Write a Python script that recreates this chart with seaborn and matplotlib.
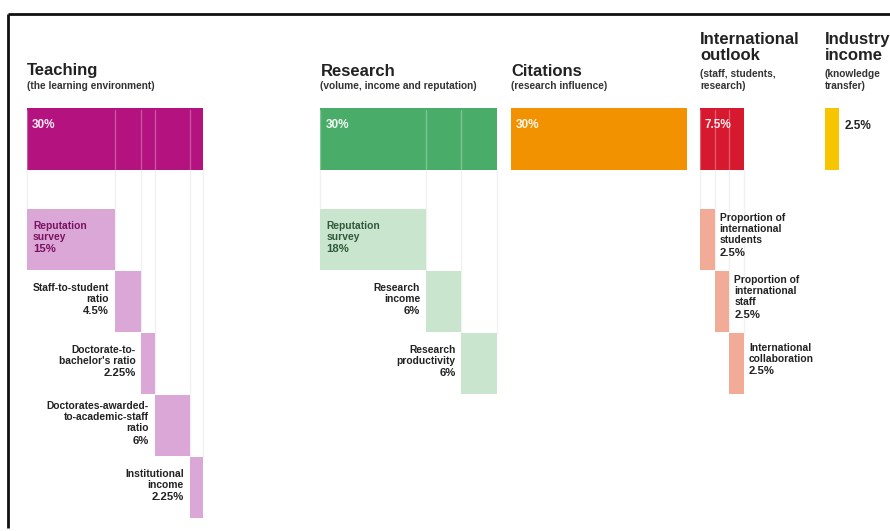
import matplotlib
matplotlib.use("Agg")
import matplotlib.pyplot as plt
import seaborn as sns
import pandas as pd

# ---- data -------------------------------------------------------------
pillars = ["Teaching", "Research", "Citations", "International\noutlook", "Industry\nincome"]
pillar_notes = ["(the learning environment)", "(volume, income and reputation)",
                "(research influence)", "(staff, students,\nresearch)", "(knowledge\ntransfer)"]
pillar_weights = [30, 30, 30, 7.5, 2.5]

teaching_metrics = ["Reputation\nsurvey", "Staff-to-student\nratio", "Doctorate-to-\nbachelor's ratio",
                    "Doctorates-awarded-\nto-academic-staff\nratio", "Institutional\nincome"]
teaching_weights = [15, 4.5, 2.25, 6, 2.25]

research_metrics = ["Reputation\nsurvey", "Research\nincome", "Research\nproductivity"]
research_weights = [18, 6, 6]

intl_metrics = ["Proportion of\ninternational\nstudents", "Proportion of\ninternational\nstaff",
                "International\ncollaboration"]
intl_weights = [2.5, 2.5, 2.5]

# ---- styling ----------------------------------------------------------
main_colors = ["#b4127e", "#49ad69", "#f39200", "#d6192e", "#f7c600"]
sub_colors = {0: "#dba7d7", 1: "#c9e5cd", 3: "#f1ab97"}
inside_text = {0: "#7a1262", 1: "#2f5a3a"}

sns.set_theme(style="white")
plt.rcParams["font.family"] = ["Liberation Sans Narrow", "Liberation Sans", "DejaVu Sans"]
SMALL = ["Liberation Sans", "DejaVu Sans"]

# layout (x in weight units, y in pixel rows)
pillar_left = [0, 50, 82.45, 114.65, 135.9]
MAIN_TOP, MAIN_H = 108, 62
ROW0, ROW_PITCH, ROW_H = 209, 62, 61
PX_PER_UNIT = 5.87
X0_PX = 27

fig = plt.figure(figsize=(8.9, 5.31), dpi=100)
ax = fig.add_axes([0, 0, 1, 1])
ax.set_xlim(-X0_PX / PX_PER_UNIT, (890 - X0_PX) / PX_PER_UNIT)
ax.set_ylim(531, 0)
ax.axis("off")

def px(n):
    return n / PX_PER_UNIT

# frame
ax.plot([px(8.5 - X0_PX), 200], [13.5, 13.5], color="#111111", lw=2, solid_capstyle="butt")
ax.plot([px(8.5 - X0_PX)] * 2, [13.5, 528], color="#111111", lw=2, solid_capstyle="butt")

frame = pd.DataFrame({"pillar": pillars, "note": pillar_notes, "weight": pillar_weights,
                      "left": pillar_left, "color": main_colors})

# main pillar bars
ax.barh(y=[MAIN_TOP] * len(frame), width=frame["weight"], left=frame["left"],
        height=MAIN_H, align="edge", color=frame["color"], linewidth=0)

for i, row in frame.iterrows():
    nlines = row["note"].count("\n") + 1
    ax.text(row["left"], 91, row["note"], fontsize=7.3, fontweight="bold", color="#333333",
            ha="left", va="bottom", linespacing=1.2, family=SMALL)
    ax.text(row["left"], 91 - (nlines * 15.5 - 3), row["pillar"], fontsize=12,
            fontweight="bold", color="#222222", ha="left", va="bottom", linespacing=1.05)
    label = f"{row['weight']:g}%"
    if row["weight"] >= 5:
        ax.text(row["left"] + px(5), 125, label, fontsize=8.5, fontweight="bold",
                color="white", ha="left", va="center", alpha=0.92, family=SMALL)
    else:
        ax.text(row["left"] + row["weight"] + px(5), 126, label, fontsize=8.5,
                fontweight="bold", color="#222222", ha="left", va="center", family=SMALL)

# breakdown of each pillar into its metrics
breakdowns = {0: (teaching_metrics, teaching_weights),
              1: (research_metrics, research_weights),
              3: (intl_metrics, intl_weights)}

LINE = 11.3
for p, (names, weights) in breakdowns.items():
    start = pillar_left[p]
    lefts = [start + sum(weights[:k]) for k in range(len(weights))]
    tops = [ROW0 + k * ROW_PITCH for k in range(len(weights))]

    # faint guides from the pillar bar down to each metric bar
    for l, t in zip(lefts, tops):
        ax.plot([l, l], [MAIN_TOP + MAIN_H, t], color="#f1f1f1", lw=1, zorder=0)
        ax.plot([l, l], [MAIN_TOP + 2, MAIN_TOP + MAIN_H - 1], color="white", lw=0.9, alpha=0.3)
    end = start + sum(weights)
    ax.plot([end, end], [MAIN_TOP + MAIN_H, tops[-1]], color="#f1f1f1", lw=1, zorder=0)

    ax.barh(y=tops, width=weights, left=lefts, height=ROW_H, align="edge",
            color=sub_colors[p], linewidth=0)

    for k, (name, w, l, t) in enumerate(zip(names, weights, lefts, tops)):
        nlines = name.count("\n") + 1
        pct = f"{w:g}%"
        centre = t + ROW_H / 2 - 2
        if p == 3:
            x, ha, color = l + w + px(5), "left", "#222222"
            centre -= 2
        elif k == 0:
            x, ha, color = l + px(6), "left", inside_text[p]
        else:
            x, ha, color = l - px(6), "right", "#222222"
        y0 = centre - (nlines + 1) * LINE / 2
        ax.text(x, y0, name, fontsize=7.4, fontweight="bold", color=color, ha=ha,
                va="top", linespacing=1.12, family=SMALL)
        ax.text(x, y0 + nlines * LINE + 1, pct, fontsize=8.2, fontweight="bold",
                color=color, ha=ha, va="top", family=SMALL)

fig.savefig("out.png", dpi=100)
